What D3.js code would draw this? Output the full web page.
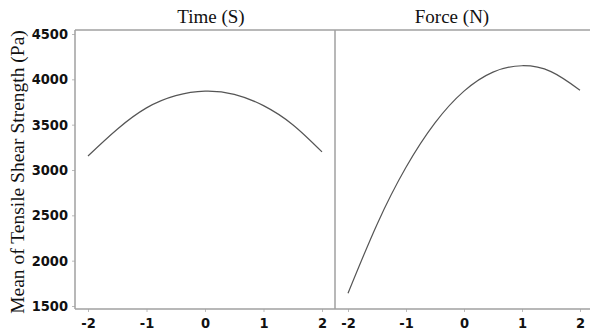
<!DOCTYPE html>
<html>
<head>
<meta charset="utf-8">
<title>Main effects plot</title>
<script src="https://d3js.org/d3.v7.min.js"></script>
<style>
  body { margin: 0; background: #fff; }
  .tick text { font-family: "Liberation Sans Narrow", "DejaVu Sans Condensed", Arial, sans-serif; font-weight: bold; font-size: 14.5px; fill: #111; }
  .title { font-family: "Liberation Serif", "Times New Roman", serif; font-size: 19px; fill: #111; }
</style>
</head>
<body>
<svg width="590" height="334"></svg>
<script>
// factor levels (coded)
var levels = [-2, -1.5, -1, -0.5, 0, 0.5, 1, 1.5, 2];
// mean tensile shear strength
var timeMeans = [3155, 3450, 3685, 3820, 3870, 3835, 3710, 3500, 3200];
var forceMeans = [1640, 2400, 3030, 3520, 3870, 4080, 4150, 4085, 3880];
var panelNames = ["Time (S)", "Force (N)"];
var yTicks = [1500, 2000, 2500, 3000, 3500, 4000, 4500];
var xTicks = [-2, -1, 0, 1, 2];

var svg = d3.select("svg");
var frameTop = 30, frameBottom = 309, left = 75, mid = 335, right = 593;

var y = d3.scaleLinear().domain([1500, 4500]).range([306, 34]);
var fmt = function (d) { return String(d); };

var panels = [
  { name: panelNames[0], vals: timeMeans, x0: left, x1: mid, tx: 211 },
  { name: panelNames[1], vals: forceMeans, x0: mid, x1: right, tx: 452 }
];

var line = d3.line().curve(d3.curveNatural);

panels.forEach(function (p) {
  var x = d3.scaleLinear().domain([-2, 2]).range([p.x0 + 13, p.x1 - 13]);

  // bottom axis
  var ax = svg.append("g")
    .attr("transform", "translate(0," + frameBottom + ")")
    .call(d3.axisBottom(x).tickValues(xTicks).tickSize(3).tickPadding(6).tickFormat(fmt));
  ax.select(".domain").remove();
  ax.selectAll(".tick line").attr("stroke", "#bbb");

  // mean curve
  svg.append("path")
    .datum(levels.map(function (l, i) { return [x(l), y(p.vals[i])]; }))
    .attr("d", line)
    .attr("fill", "none")
    .attr("stroke", "#555")
    .attr("stroke-width", 1.2);

  svg.append("text")
    .attr("class", "title")
    .attr("x", p.tx)
    .attr("y", 23)
    .attr("text-anchor", "middle")
    .text(p.name);
});

// left axis
var ay = svg.append("g")
  .attr("transform", "translate(" + left + ",0)")
  .call(d3.axisLeft(y).tickValues(yTicks).tickSize(3).tickPadding(4).tickFormat(fmt));
ay.select(".domain").remove();
ay.selectAll(".tick line").attr("stroke", "#bbb");

// frame
var frame = "#a0a0a0";
svg.append("line").attr("x1", left).attr("x2", 590).attr("y1", frameTop).attr("y2", frameTop).attr("stroke", frame).attr("stroke-width", 1.5);
svg.append("line").attr("x1", left).attr("x2", 590).attr("y1", frameBottom).attr("y2", frameBottom).attr("stroke", frame).attr("stroke-width", 1.5);
svg.append("line").attr("x1", left).attr("x2", left).attr("y1", frameTop).attr("y2", frameBottom).attr("stroke", frame).attr("stroke-width", 1.5);
svg.append("line").attr("x1", mid).attr("x2", mid).attr("y1", frameTop).attr("y2", frameBottom).attr("stroke", frame).attr("stroke-width", 1.5);

// y label
svg.append("text")
  .attr("class", "title")
  .attr("transform", "rotate(-90)")
  .attr("x", -172)
  .attr("y", 24)
  .attr("text-anchor", "middle")
  .style("font-size", "19.5px")
  .text("Mean of Tensile Shear Strength (Pa)");
</script>
</body>
</html>
